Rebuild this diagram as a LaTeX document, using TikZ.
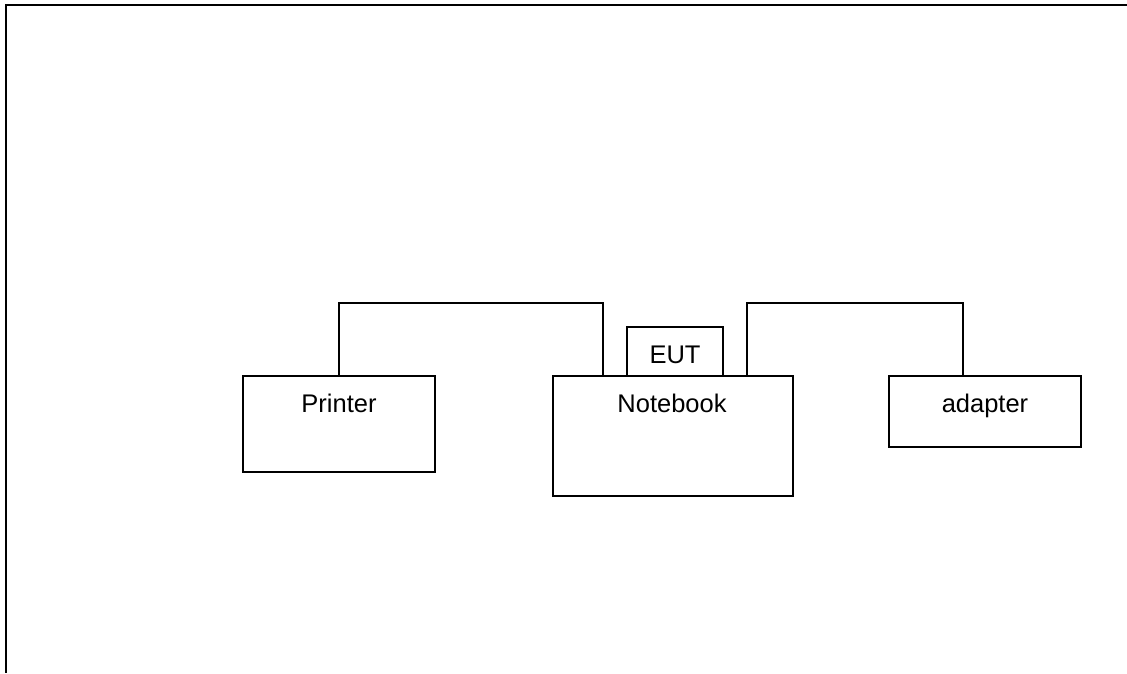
\documentclass[tikz,border=0pt]{standalone}
\usepackage{fontspec}
\setmainfont{Liberation Sans}
\begin{document}
\begin{tikzpicture}[x=1pt,y=1pt,
  box/.style={draw, line width=1.3pt, inner sep=0pt, outer sep=0pt, rectangle},
  lbl/.style={anchor=base, inner sep=0pt, font=\fontsize{25.5}{30}\selectfont},
  wire/.style={line width=1.3pt}]
\useasboundingbox (0,0) rectangle (1127,673);
% frame
\coordinate (ftr) at (1127,668);
\coordinate (ftl) at (6,668);
\coordinate (fbl) at (6,0);
\draw[line width=2pt] (ftr) -- (ftl) -- (fbl);
% boxes
\node[box, minimum width=192pt, minimum height=96pt] (printer) at (339,249) {};
\node[box, minimum width=240pt, minimum height=120pt] (notebook) at (673,237) {};
\node[box, minimum width=96pt, minimum height=49pt] (eut) at (675,321.5) {};
\node[box, minimum width=192pt, minimum height=71pt] (adapter) at (985,261.5) {};
% labels
\node[lbl] (tprinter) at (339,261) {Printer};
\node[lbl] (tnotebook) at (672,261) {Notebook};
\node[lbl] (tadapter) at (985,261) {adapter};
\node[lbl] (teut) at (675,310) {EUT};
% wires
\draw[wire] (printer.north) -- ++(0,73) -| (notebook.north -| 603,0);
\draw[wire] (notebook.north -| 747,0) -- ++(0,73) -| (adapter.north -| 963,0);
\end{tikzpicture}
\end{document}
